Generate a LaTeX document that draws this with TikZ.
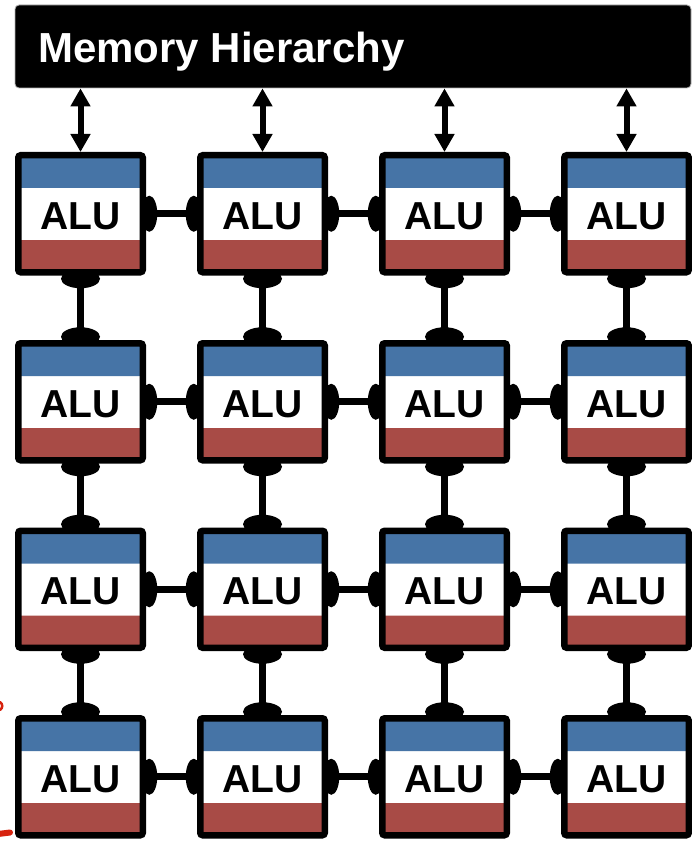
\documentclass[tikz,border=0pt]{standalone}
\usepackage{fontspec}
\setmainfont{Liberation Sans}
\usetikzlibrary{arrows.meta}
\definecolor{alublue}{RGB}{70,116,166}
\definecolor{alured}{RGB}{168,75,70}
\definecolor{markred}{RGB}{215,35,15}
\pgfdeclarelayer{bg}
\pgfsetlayers{bg,main}

\begin{document}
\begin{tikzpicture}[x=1pt,y=-1pt,
  alubox/.style={draw=black, line width=6.5pt, rounded corners=2.5pt, fill=white,
    minimum width=124.5pt, minimum height=117pt, inner sep=0pt, text height=31pt,
    font=\fontsize{39}{39}\selectfont\bfseries,
    path picture={
      \fill[alublue] (path picture bounding box.north west)
        rectangle ([yshift=-32.75pt]path picture bounding box.north east);
      \fill[alured] ([yshift=32.25pt]path picture bounding box.south west)
        rectangle (path picture bounding box.south east);
    }},
  membox/.style={draw=gray!60, line width=0.8pt, fill=black, rounded corners=4pt,
    minimum width=676pt, minimum height=83pt, inner sep=0pt},
  memtext/.style={text=white, inner sep=0pt, font=\fontsize{42}{42}\selectfont\bfseries},
  link/.style={line width=7pt},
  biarrow/.style={line width=6pt, {Triangle[width=19pt,length=18pt]}-{Triangle[width=19pt,length=18pt]}},
  hcap/.style={x radius=8pt, y radius=18pt},
  vcap/.style={x radius=19.5pt, y radius=9.5pt},
  redmark/.style={draw=markred, line cap=round}
]
\useasboundingbox (0,0) rectangle (692,842);

% memory block
\node[membox] (mem) at (353,46.5) {};
\node[memtext, anchor=base west] (memlabel) at (38,63) {Memory Hierarchy};

% 4x4 grid of ALUs
\foreach \r/\y in {1/213.75,2/401.75,3/589.25,4/776.75}
  \foreach \c/\x in {1/80.5,2/262.5,3/444.5,4/626.5}
    \node[alubox] (a\r\c) at (\x,\y) {ALU};

% memory ports
\foreach \c in {1,...,4}
  \draw[biarrow] (a1\c.north |- mem.south) -- (a1\c.north);

% mesh links, drawn behind the ALUs
\begin{pgfonlayer}{bg}
  \foreach \r in {1,...,4}
    \foreach \c/\n in {1/2,2/3,3/4} {
      \draw[link] (a\r\c.east) -- (a\r\n.west);
      \fill ([xshift=3.25pt]a\r\c.east) ellipse [hcap];
      \fill ([xshift=-3.25pt]a\r\n.west) ellipse [hcap];
    }
  \foreach \r/\n in {1/2,2/3,3/4}
    \foreach \c in {1,...,4} {
      \draw[link] (a\r\c.south) -- (a\n\c.north);
      \fill ([yshift=-3.25pt]a\r\c.south) ellipse [vcap];
      \fill ([yshift=3.25pt]a\n\c.north) ellipse [vcap];
    }
\end{pgfonlayer}

% pen marks at the left edge
\coordinate (m1) at (0,702);
\coordinate (m2) at (0,710);
\draw[redmark, line width=2.5pt] (m1) .. controls (3,704) and (3,708) .. (m2);
\coordinate (m3) at (-2,834);
\coordinate (m4) at (10,832.5);
\draw[redmark, line width=6pt] (m3) -- (m4);
\end{tikzpicture}
\end{document}
